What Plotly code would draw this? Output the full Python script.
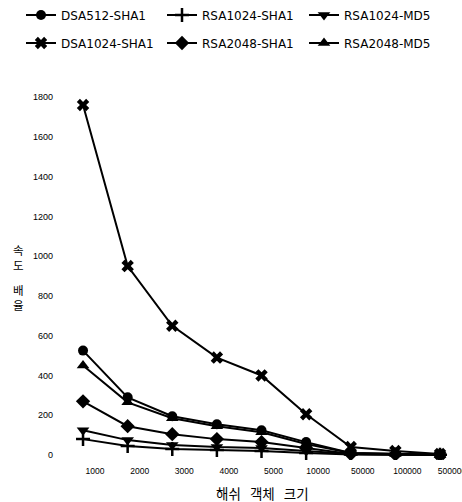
import plotly.graph_objects as go

categories = ["1000", "2000", "3000", "4000", "5000", "10000", "50000", "100000", "500000"]
dsa512_sha1 = [525, 290, 195, 155, 125, 65, 10, 5, 2]
dsa1024_sha1 = [1760, 950, 650, 490, 400, 205, 40, 20, 5]
rsa1024_sha1 = [80, 45, 30, 25, 20, 10, 3, 2, 1]
rsa2048_sha1 = [270, 145, 105, 80, 65, 35, 5, 3, 1]
rsa1024_md5 = [125, 75, 50, 40, 35, 20, 5, 3, 1]
rsa2048_md5 = [450, 265, 185, 145, 115, 55, 10, 5, 2]
y_ticks = [0, 200, 400, 600, 800, 1000, 1200, 1400, 1600, 1800]

# name, values, symbol, size, legend column, legend row
series = [
    ("DSA512-SHA1", dsa512_sha1, "circle", 10, 0, 0),
    ("RSA1024-SHA1", rsa1024_sha1, "cross-thin", 10, 1, 0),
    ("RSA1024-MD5", rsa1024_md5, "triangle-down", 11, 2, 0),
    ("DSA1024-SHA1", dsa1024_sha1, "x", 11, 0, 1),
    ("RSA2048-SHA1", rsa2048_sha1, "diamond", 11, 1, 1),
    ("RSA2048-MD5", rsa2048_md5, "triangle-up", 11, 2, 1),
]

W, H = 462, 502
col_x = [21, 162, 304]
row_y = [15, 43]

fig = go.Figure()
xs = list(range(len(categories)))
legends = {}
for i, (name, vals, sym, size, col, row) in enumerate(series):
    lg = "legend" if i == 0 else f"legend{i + 1}"
    fig.add_trace(go.Scatter(
        x=xs, y=vals, name=name, mode="lines+markers",
        line=dict(color="black", width=2),
        marker=dict(symbol=sym, size=size, color="black",
                    line=dict(color="black", width=2.5 if sym == "cross-thin" else 0)),
        legend=lg,
    ))
    legends[lg] = dict(orientation="h", xref="container", yref="container",
                       x=col_x[col] / W, y=1 - row_y[row] / H,
                       xanchor="left", yanchor="middle",
                       font=dict(family="DejaVu Sans", size=12, color="black"),
                       bgcolor="rgba(0,0,0,0)", itemwidth=30)

fig.update_layout(
    width=W, height=H,
    margin=dict(l=60, r=7, t=70, b=42, autoexpand=False),
    paper_bgcolor="white", plot_bgcolor="white",
    showlegend=True,
    xaxis=dict(range=[-0.516, 8.336], tickmode="array", tickvals=xs, ticktext=categories,
               showgrid=False, zeroline=False, showline=False, ticks="",
               tickfont=dict(family="Liberation Sans", size=8.5, color="black"),
               ticklabelshift=12, ticklabelstandoff=4, ticklabeloverflow="allow"),
    yaxis=dict(range=[-25, 1936], tickmode="array", tickvals=y_ticks,
               showgrid=False, zeroline=False, showline=False, ticks="",
               tickfont=dict(family="Liberation Sans", size=9, color="black"),
               ticklabelstandoff=6),
    annotations=[
        dict(text="해쉬   객체   크기", xref="paper", yref="paper",
             x=(262 - 60) / 395, y=-(493 - 460) / 390, xanchor="center", yanchor="middle",
             showarrow=False, font=dict(family="Noto Sans CJK KR", size=13.5, color="black")),
        dict(text="속<br>도", xref="paper", yref="paper",
             x=-(60 - 18) / 395, y=(460 - 257) / 390, xanchor="center", yanchor="middle",
             showarrow=False, font=dict(family="Noto Sans CJK KR", size=11.5, color="black")),
        dict(text="배<br>율", xref="paper", yref="paper",
             x=-(60 - 18) / 395, y=(460 - 297) / 390, xanchor="center", yanchor="middle",
             showarrow=False, font=dict(family="Noto Sans CJK KR", size=11.5, color="black")),
    ],
    **legends,
)

fig.write_html("out.html", config={"displayModeBar": False},
               post_script="document.body.style.margin='0';document.body.style.overflow='hidden';")
